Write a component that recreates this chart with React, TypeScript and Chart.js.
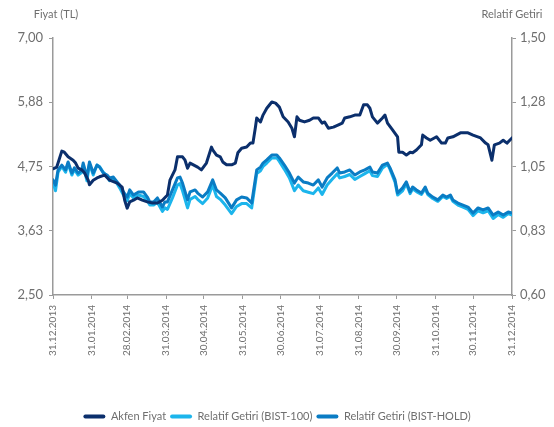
import React, { useEffect, useRef } from "react";
import { Chart, registerables } from "chart.js";

Chart.register(...registerables);

// Day offsets from 31.12.2013
const priceDays = [0, 3, 7, 9, 12, 16, 18, 20, 23, 25, 28, 29, 32, 35, 37, 41, 45, 51, 55, 57, 59, 61, 64, 67, 71, 75, 79, 83, 87, 91, 93, 97, 99, 103, 105, 107, 109, 115, 118, 122, 126, 127, 130, 133, 135, 138, 142, 145, 147, 150, 154, 157, 159, 161, 162, 165, 167, 170, 174, 177, 180, 183, 187, 190, 192, 194, 196, 200, 204, 207, 211, 214, 216, 219, 223, 227, 230, 232, 236, 240, 244, 247, 250, 252, 254, 258, 262, 264, 266, 270, 274, 275, 278, 281, 284, 286, 289, 293, 294, 297, 300, 305, 309, 312, 314, 318, 324, 328, 330, 334, 340, 344, 346, 349, 351, 355, 358, 361, 365];
const akfenPrice = [4.71, 4.74, 5.02, 5.0, 4.92, 4.86, 4.81, 4.72, 4.69, 4.64, 4.51, 4.43, 4.51, 4.55, 4.57, 4.6, 4.51, 4.46, 4.39, 4.16, 4.02, 4.13, 4.16, 4.2, 4.16, 4.13, 4.11, 4.11, 4.16, 4.25, 4.51, 4.69, 4.92, 4.92, 4.86, 4.72, 4.81, 4.74, 4.69, 4.81, 5.09, 5.04, 4.95, 4.92, 4.83, 4.78, 4.78, 4.81, 4.99, 5.07, 5.09, 5.16, 5.16, 5.44, 5.6, 5.53, 5.65, 5.77, 5.88, 5.86, 5.79, 5.62, 5.53, 5.42, 5.27, 5.62, 5.56, 5.53, 5.56, 5.6, 5.6, 5.51, 5.53, 5.42, 5.44, 5.48, 5.51, 5.6, 5.62, 5.65, 5.65, 5.83, 5.83, 5.77, 5.62, 5.51, 5.6, 5.65, 5.51, 5.39, 5.27, 5.0, 5.0, 4.95, 5.0, 4.99, 5.04, 5.13, 5.3, 5.25, 5.21, 5.27, 5.16, 5.16, 5.25, 5.27, 5.34, 5.34, 5.34, 5.3, 5.25, 5.16, 5.13, 4.86, 5.13, 5.16, 5.21, 5.16, 5.25];

const relDays = [0, 2, 4, 7, 10, 12, 15, 17, 20, 23, 24, 27, 29, 32, 35, 37, 40, 43, 45, 48, 51, 53, 56, 59, 61, 64, 68, 72, 75, 77, 80, 83, 87, 89, 91, 95, 99, 101, 103, 107, 109, 113, 115, 119, 123, 127, 130, 133, 137, 142, 146, 150, 154, 158, 162, 165, 167, 170, 174, 178, 180, 184, 188, 192, 195, 199, 203, 207, 211, 214, 218, 222, 226, 228, 232, 236, 240, 244, 248, 252, 254, 258, 262, 266, 268, 272, 274, 278, 281, 284, 286, 289, 293, 296, 298, 302, 306, 310, 313, 316, 318, 322, 326, 330, 334, 338, 342, 346, 350, 354, 358, 362, 365];
const relBist100 = [0.995, 0.965, 1.03, 1.05, 1.03, 1.06, 1.02, 1.04, 1.02, 1.03, 1.055, 1.0, 1.06, 1.02, 1.055, 1.05, 1.03, 1.015, 1.0, 1.01, 0.99, 0.975, 0.95, 0.93, 0.955, 0.94, 0.95, 0.945, 0.93, 0.915, 0.915, 0.925, 0.893, 0.905, 0.9, 0.94, 0.985, 0.99, 0.965, 0.905, 0.935, 0.945, 0.935, 0.92, 0.94, 0.985, 0.945, 0.935, 0.915, 0.885, 0.91, 0.92, 0.92, 0.905, 1.025, 1.035, 1.05, 1.062, 1.08, 1.08, 1.068, 1.04, 1.01, 0.965, 0.985, 0.965, 0.96, 0.955, 0.975, 0.952, 0.985, 1.005, 1.025, 1.01, 1.015, 1.022, 1.005, 1.015, 1.025, 1.035, 1.018, 1.015, 1.045, 1.058, 1.04, 0.995, 0.95, 0.965, 0.99, 0.955, 0.972, 0.962, 0.952, 0.972, 0.952, 0.938, 0.928, 0.945, 0.938, 0.945, 0.928, 0.915, 0.908, 0.9, 0.878, 0.895, 0.888, 0.895, 0.868, 0.882, 0.872, 0.885, 0.88];
const relBistHold = [1.003, 0.985, 1.038, 1.055, 1.038, 1.066, 1.027, 1.045, 1.027, 1.038, 1.062, 1.013, 1.066, 1.027, 1.055, 1.048, 1.027, 1.02, 1.01, 1.013, 0.996, 0.985, 0.961, 0.943, 0.968, 0.95, 0.961, 0.961, 0.943, 0.926, 0.926, 0.94, 0.908, 0.926, 0.926, 0.968, 1.01, 1.013, 0.992, 0.933, 0.961, 0.968, 0.957, 0.943, 0.961, 1.003, 0.968, 0.957, 0.94, 0.905, 0.933, 0.943, 0.94, 0.922, 1.038, 1.048, 1.062, 1.073, 1.09, 1.09, 1.08, 1.055, 1.027, 0.992, 1.013, 0.996, 0.992, 0.985, 1.003, 0.978, 1.01, 1.027, 1.045, 1.027, 1.031, 1.038, 1.02, 1.031, 1.038, 1.048, 1.031, 1.027, 1.055, 1.062, 1.045, 1.003, 0.957, 0.975, 0.996, 0.961, 0.978, 0.968, 0.957, 0.978, 0.957, 0.943, 0.933, 0.95, 0.943, 0.95, 0.933, 0.922, 0.915, 0.908, 0.887, 0.905, 0.898, 0.905, 0.88, 0.891, 0.88, 0.891, 0.887];

const xTickDays = [0, 31, 59, 90, 120, 151, 181, 212, 243, 273, 304, 334, 365];
const xTickLabels = ["31.12.2013", "31.01.2014", "28.02.2014", "31.03.2014", "30.04.2014", "31.05.2014", "30.06.2014", "31.07.2014", "31.08.2014", "30.09.2014", "31.10.2014", "30.11.2014", "31.12.2014"];
const leftTicks = [2.5, 3.625, 4.75, 5.875, 7.0];
const rightTicks = [0.6, 0.825, 1.05, 1.275, 1.5];
const seriesNames = ["Akfen Fiyat", "Relatif Getiri (BIST-100)", "Relatif Getiri (BIST-HOLD)"];
const leftTitle = "Fiyat (TL)";
const rightTitle = "Relatif Getiri";

const FONT = "Lato, 'Open Sans', sans-serif";
const AXIS = "#9a9a9a";
const TEXT = "#6f6f6f";
const BOTTOM_PAD = -5;

const fmt = (v: number) => (Math.round(v * 100 + 1e-6) / 100).toFixed(2).replace(".", ",");

export default function App() {
  const canvasRef = useRef<HTMLCanvasElement | null>(null);

  useEffect(() => {
    if (!canvasRef.current) return;
    const titles = {
      id: "axisTitles",
      afterDraw(chart: any) {
        const { ctx } = chart;
        ctx.save();
        ctx.font = `11px ${FONT}`;
        ctx.fillStyle = TEXT;
        ctx.textAlign = "center";
        ctx.textBaseline = "middle";
        ctx.fillText(leftTitle, 56, 14);
        ctx.fillText(rightTitle, 512, 14);
        ctx.restore();
      },
    };
    const chart = new Chart(canvasRef.current, {
      type: "line",
      data: {
        datasets: [
          {
            label: seriesNames[0],
            data: priceDays.map((d, i) => ({ x: d, y: akfenPrice[i] })),
            borderColor: "#0b2f6c",
            backgroundColor: "#0b2f6c",
            yAxisID: "y",
            order: 0,
          },
          {
            label: seriesNames[1],
            data: relDays.map((d, i) => ({ x: d, y: relBist100[i] })),
            borderColor: "#1cb5ec",
            backgroundColor: "#1cb5ec",
            yAxisID: "y1",
            order: 2,
          },
          {
            label: seriesNames[2],
            data: relDays.map((d, i) => ({ x: d, y: relBistHold[i] })),
            borderColor: "#0a7cc4",
            backgroundColor: "#0a7cc4",
            yAxisID: "y1",
            order: 1,
          },
        ],
      },
      options: {
        animation: false,
        responsive: true,
        maintainAspectRatio: false,
        layout: { padding: { top: 38, left: 0, right: 0, bottom: BOTTOM_PAD } },
        elements: {
          point: { radius: 0 },
          line: { borderWidth: 3, tension: 0, borderJoinStyle: "round", borderCapStyle: "round" },
        },
        plugins: {
          tooltip: { enabled: false },
          legend: {
            position: "bottom",
            labels: {
              font: { family: FONT, size: 11 },
              color: TEXT,
              boxWidth: 22,
              boxHeight: 4,
              padding: 4,
              useBorderRadius: true,
              borderRadius: 2,
              sort: (a: any, b: any) => a.datasetIndex - b.datasetIndex,
              generateLabels: (chart: any) =>
                Chart.defaults.plugins.legend.labels
                  .generateLabels(chart)
                  .map((l: any) => ({ ...l, lineWidth: 0, fillStyle: l.strokeStyle })),
            },
          },
        },
        scales: {
          x: {
            type: "linear",
            min: 0,
            max: 365,
            afterBuildTicks: (s: any) => {
              s.ticks = xTickDays.map((v) => ({ value: v }));
            },
            afterFit: (s: any) => {
              const lh = s.chart.legend ? s.chart.legend.height : 0;
              s.height = s.chart.height - BOTTOM_PAD - 295 - lh;
            },
            ticks: {
              autoSkip: false,
              minRotation: 90,
              maxRotation: 90,
              padding: 6,
              font: { family: FONT, size: 10 },
              color: TEXT,
              callback: (v: any) => xTickLabels[xTickDays.indexOf(Number(v))] ?? "",
            },
            grid: { drawOnChartArea: false, tickLength: 4, color: AXIS, lineWidth: 1 },
            border: { color: AXIS, width: 1.5 },
          },
          y: {
            position: "left",
            min: 2.5,
            max: 7,
            afterBuildTicks: (s: any) => {
              s.ticks = leftTicks.map((v) => ({ value: v }));
            },
            afterFit: (s: any) => {
              s.width = 53;
            },
            ticks: {
              padding: 6,
              font: { family: FONT, size: 13 },
              color: TEXT,
              callback: (v: any) => fmt(Number(v)),
            },
            grid: { drawOnChartArea: false, tickLength: 4, color: AXIS, lineWidth: 1 },
            border: { color: AXIS, width: 1.5 },
          },
          y1: {
            position: "right",
            min: 0.6,
            max: 1.5,
            afterBuildTicks: (s: any) => {
              s.ticks = rightTicks.map((v) => ({ value: v }));
            },
            afterFit: (s: any) => {
              s.width = 42;
            },
            ticks: {
              padding: 4,
              font: { family: FONT, size: 13 },
              color: TEXT,
              callback: (v: any) => fmt(Number(v)),
            },
            grid: { drawOnChartArea: false, tickLength: 4, color: AXIS, lineWidth: 1 },
            border: { color: AXIS, width: 1.5 },
          },
        },
      },
      plugins: [titles],
    } as any);
    return () => chart.destroy();
  }, []);

  return (
    <div style={{ position: "fixed", left: 0, top: 0, width: 554, height: 427, background: "#fff" }}>
      <canvas ref={canvasRef} />
    </div>
  );
}
